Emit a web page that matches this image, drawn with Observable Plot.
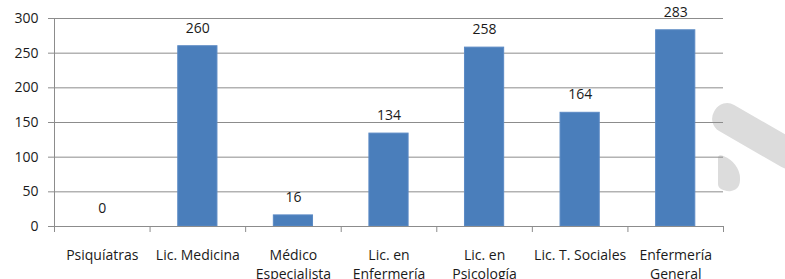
<!DOCTYPE html>
<html>
<head>
<meta charset="utf-8">
<script src="https://cdn.jsdelivr.net/npm/d3@7"></script>
<script src="https://cdn.jsdelivr.net/npm/@observablehq/plot@0.6"></script>
<style>
  html, body { margin: 0; padding: 0; background: #fff; }
  #wrap { position: relative; width: 785px; height: 279px; overflow: hidden; }
  .wm { position: absolute; background: #dcdcdc; border-radius: 14px; }
</style>
</head>
<body>
<div id="wrap">
  <div class="wm" style="left:722px; top:98px; width:100px; height:30px; transform: rotate(30deg); transform-origin: 0 0;"></div>
  <div class="wm" style="left:718px; top:158px; width:22px; height:34px; border-radius: 4px 16px 16px 4px; transform: skewY(20deg);"></div>
  <div id="chart" style="position:absolute; left:0; top:0;"></div>
</div>
<script>
const categories = ["Psiquíatras", "Lic. Medicina", "Médico\nEspecialista", "Lic. en\nEnfermería", "Lic. en\nPsicología", "Lic. T. Sociales", "Enfermería\nGeneral"];
const values = [0, 260, 16, 134, 258, 164, 283];
const yTicks = [0, 50, 100, 150, 200, 250, 300];

const data = categories.map((c, i) => ({i, category: c, value: values[i]}));
const boundaries = d3.range(categories.length + 1);

const font = "'Open Sans', Lato, sans-serif";
const grid = "#8c8c8c";

const chart = Plot.plot({
  width: 785,
  height: 279,
  marginLeft: 54,
  marginRight: 62,
  marginTop: 18,
  marginBottom: 53,
  style: {fontFamily: font, fontSize: "14px", color: "#1a1a1a", background: "transparent"},
  x: {domain: [0, categories.length], axis: null},
  y: {domain: [0, 300], axis: null},
  marks: [
    Plot.gridY(yTicks, {stroke: grid, strokeOpacity: 1, x1: 0, x2: categories.length, insetLeft: -6}),
    Plot.ruleX([0], {stroke: grid, y1: 0, y2: 300}),
    Plot.axisY({ticks: yTicks, tickSize: 0, tickPadding: 16, fontSize: 14, fill: "#1a1a1a", stroke: grid, label: null}),
    Plot.axisX({ticks: boundaries, tickFormat: () => "", tickSize: 6, stroke: grid, label: null}),
    Plot.rectY(data, {x1: d => d.i + 0.295, x2: d => d.i + 0.705, y: "value", fill: "#4a7ebb", stroke: "#5b8ac4", strokeWidth: 1}),
    Plot.ruleY([0], {stroke: grid}),
    Plot.text(data, {x: d => d.i + 0.5, y: "value", text: d => String(d.value), dy: -18, fontSize: 14, fill: "#1a1a1a"}),
    Plot.text(data, {x: d => d.i + 0.5, y: 0, text: "category", dy: 20, lineAnchor: "top", lineHeight: 1.35, fontSize: 14, fill: "#1a1a1a"})
  ]
});
document.getElementById("chart").appendChild(chart);
</script>
</body>
</html>
